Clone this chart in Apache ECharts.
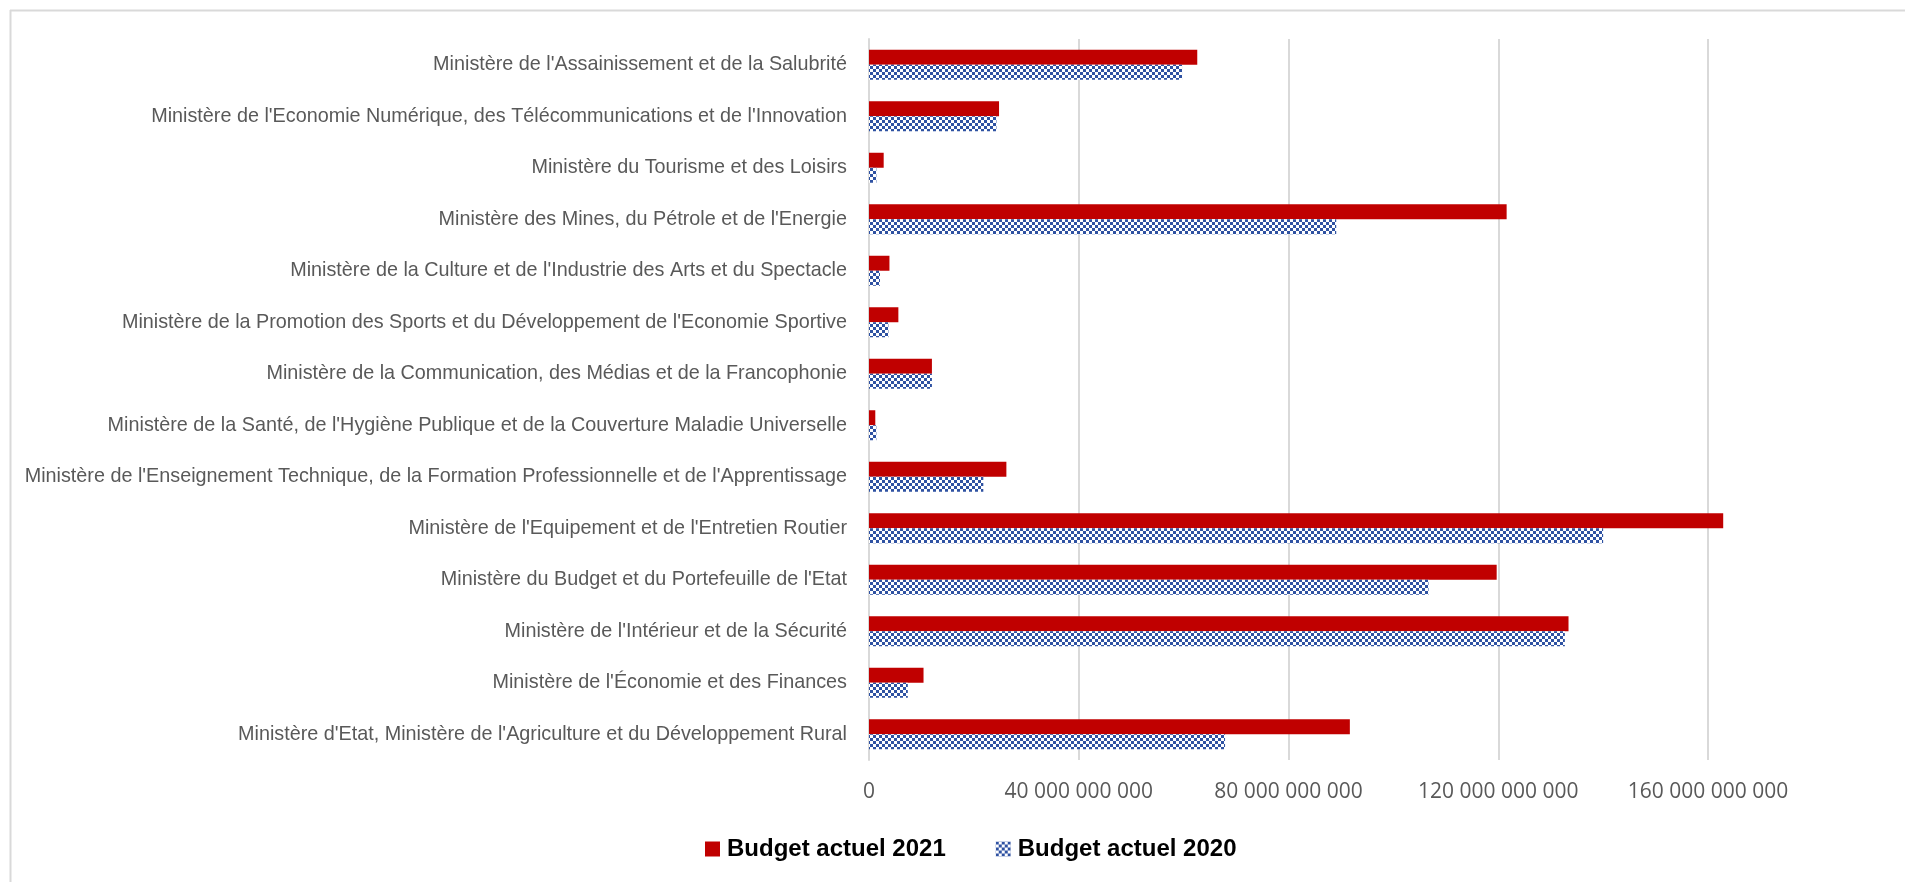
<!DOCTYPE html>
<html>
<head>
<meta charset="utf-8">
<script src="https://cdn.jsdelivr.net/npm/echarts@6/dist/echarts.min.js"></script>
<style>
html,body{margin:0;padding:0;background:#fff;}
#chart{width:1905px;height:882px;}
</style>
</head>
<body>
<div id="chart"></div>
<script>
const categories = [
  "Ministère de l'Assainissement et de la Salubrité",
  "Ministère de l'Economie Numérique, des Télécommunications et de l'Innovation",
  "Ministère du Tourisme et des Loisirs",
  "Ministère des Mines, du Pétrole et de l'Energie",
  "Ministère de la Culture et de l'Industrie des Arts et du Spectacle",
  "Ministère de la Promotion des Sports et du Développement de l'Economie Sportive",
  "Ministère de la Communication, des Médias et de la Francophonie",
  "Ministère de la Santé, de l'Hygiène Publique et de la Couverture Maladie Universelle",
  "Ministère de l'Enseignement Technique, de la Formation Professionnelle et de l'Apprentissage",
  "Ministère de l'Equipement et de l'Entretien Routier",
  "Ministère du Budget et du Portefeuille de l'Etat",
  "Ministère de l'Intérieur et de la Sécurité",
  "Ministère de l'Économie et des Finances",
  "Ministère d'Etat, Ministère de l'Agriculture et du Développement Rural"
];
const budget2021 = [62.6e9, 24.8e9, 2.8e9, 121.6e9, 3.9e9, 5.6e9, 12.0e9, 1.2e9, 26.2e9, 162.9e9, 119.7e9, 133.4e9, 10.4e9, 91.7e9];
const budget2020 = [59.7e9, 24.3e9, 1.4e9, 89.1e9, 2.1e9, 3.7e9, 12.0e9, 1.4e9, 21.8e9, 140.0e9, 106.7e9, 132.7e9, 7.4e9, 67.9e9];
const seriesNames = ["Budget actuel 2021", "Budget actuel 2020"];
const tickValues = [0, 40e9, 80e9, 120e9, 160e9];

function fmt(v){
  return String(Math.round(v)).replace(/\B(?=(\d{3})+(?!\d))/g, ' ');
}

const pc = document.createElement('canvas');
pc.width = 6; pc.height = 6;
const ctx = pc.getContext('2d');
ctx.fillStyle = '#ffffff'; ctx.fillRect(0,0,6,6);
ctx.fillStyle = '#2f52a2';
ctx.fillRect(0,0,3,3); ctx.fillRect(3,3,3,3);

const chart = echarts.init(document.getElementById('chart'));
chart.setOption({
  animation: false,
  backgroundColor: '#ffffff',
  graphic: [
    {type:'line', shape:{x1:10.5,y1:10,x2:10.5,y2:882}, style:{stroke:'#d9d9d9', lineWidth:2}},
    {type:'line', shape:{x1:10,y1:10.5,x2:1905,y2:10.5}, style:{stroke:'#d9d9d9', lineWidth:2}}
  ],
  grid: {left: 869, right: 197, top: 39, bottom: 122},
  legend: {
    data: seriesNames,
    left: 700, top: 832,
    itemWidth: 15, itemHeight: 15, itemGap: 50,
    icon: 'rect',
    textStyle: {fontFamily: 'Liberation Sans, Arial, sans-serif', fontWeight: 'bold', fontSize: 24, color: '#000000', padding:[0,0,0,2]}
  },
  xAxis: {
    type: 'value', min: tickValues[0], max: tickValues[tickValues.length-1], interval: tickValues[1]-tickValues[0],
    axisLine: {show: false}, axisTick: {show: false},
    splitLine: {show: true, lineStyle: {color: '#d9d9d9', width: 2}},
    axisLabel: {formatter: fmt, margin: 22, fontFamily: 'Open Sans, sans-serif', fontSize: 21, color: '#595959'}
  },
  yAxis: {
    type: 'category', data: categories, inverse: true,
    axisLine: {show: true, lineStyle: {color: '#d9d9d9', width: 2}},
    axisTick: {show: false},
    axisLabel: {margin: 22, fontFamily: 'Liberation Sans, Arial, sans-serif', fontSize: 19.8, color: '#595959'}
  },
  series: [
    {name: seriesNames[0], type: 'bar', data: budget2021, barWidth: 15, barGap: '0%', clip: false,
     itemStyle: {color: '#c00000'}},
    {name: seriesNames[1], type: 'bar', data: budget2020, barWidth: 15, barGap: '0%', clip: false,
     itemStyle: {color: {image: pc, repeat: 'repeat'}}}
  ]
});
</script>
</body>
</html>
